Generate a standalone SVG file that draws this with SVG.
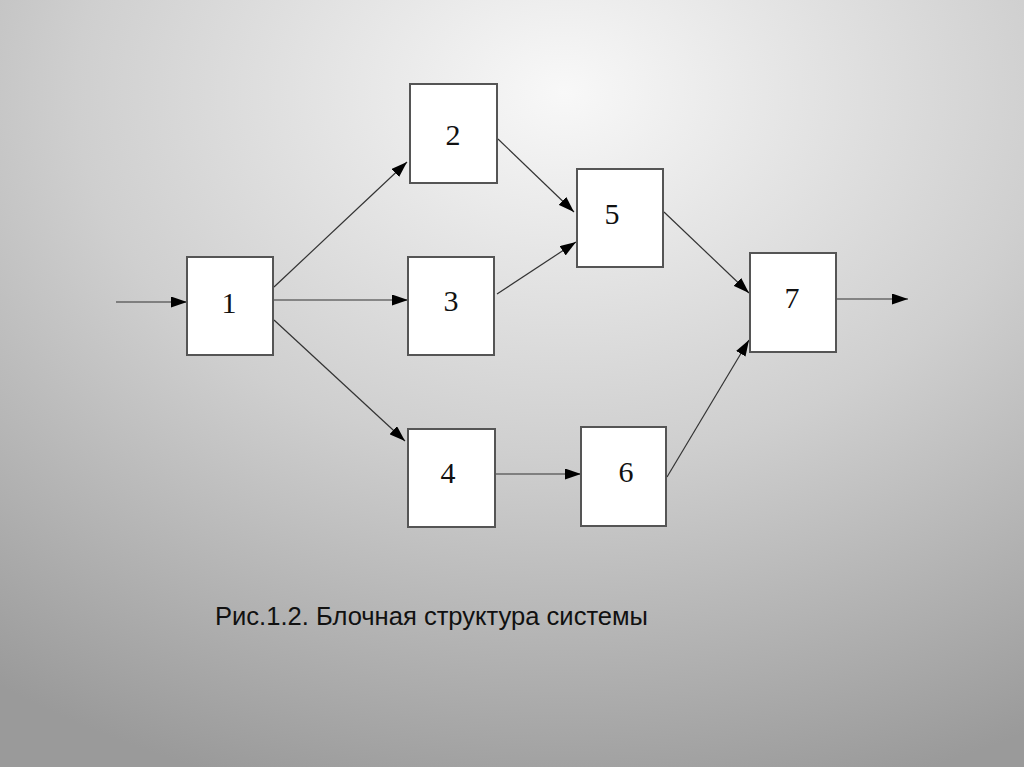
<svg xmlns="http://www.w3.org/2000/svg" width="1024" height="767" viewBox="0 0 1024 767">
<defs>
<radialGradient id="bg" cx="0.55" cy="0.12" r="0.95" fx="0.55" fy="0.12">
<stop offset="0" stop-color="#f8f8f8"/>
<stop offset="0.5" stop-color="#cfcfcf"/>
<stop offset="1" stop-color="#9a9a9a"/>
</radialGradient>
<marker id="ah" viewBox="0 0 16 11" refX="16" refY="5.5" markerWidth="16" markerHeight="11" markerUnits="userSpaceOnUse" orient="auto">
<path d="M0,0 L16,5.5 L0,11 Z" fill="#000"/>
</marker>
<style>
.box{fill:#fff;stroke:#555;stroke-width:2}
.num{font-family:"Liberation Serif","Times New Roman",serif;font-size:30px;fill:#111;text-anchor:middle}
.c{stroke:#333;stroke-width:1.2;fill:none;marker-end:url(#ah)}
.cap{font-family:"Liberation Sans",Arial,sans-serif;font-size:26px;fill:#111}
</style>
</defs>
<rect width="1024" height="767" fill="url(#bg)"/>
<g id="connectors">
<line class="c" x1="116" y1="302" x2="187" y2="302"/>
<line class="c" x1="274" y1="287" x2="407" y2="162"/>
<line class="c" x1="274" y1="300" x2="408" y2="300"/>
<line class="c" x1="274" y1="320" x2="405" y2="441"/>
<line class="c" x1="498" y1="139" x2="574" y2="212"/>
<line class="c" x1="497" y1="294" x2="576" y2="242"/>
<line class="c" x1="664" y1="212" x2="749" y2="293"/>
<line class="c" x1="495" y1="474" x2="581" y2="474"/>
<line class="c" x1="667" y1="477" x2="749" y2="340"/>
<line class="c" x1="837" y1="299" x2="908" y2="299"/>
</g>
<g id="n1"><rect class="box" x="187" y="257" width="86" height="98"/><text class="num" x="229" y="313">1</text></g>
<g id="n2"><rect class="box" x="410" y="84" width="87" height="99"/><text class="num" x="453" y="145">2</text></g>
<g id="n3"><rect class="box" x="408" y="257" width="86" height="98"/><text class="num" x="451" y="311">3</text></g>
<g id="n4"><rect class="box" x="408" y="429" width="87" height="98"/><text class="num" x="448" y="483">4</text></g>
<g id="n5"><rect class="box" x="577" y="169" width="86" height="98"/><text class="num" x="612" y="224">5</text></g>
<g id="n6"><rect class="box" x="581" y="427" width="85" height="99"/><text class="num" x="626" y="482">6</text></g>
<g id="n7"><rect class="box" x="750" y="253" width="86" height="99"/><text class="num" x="792" y="308">7</text></g>
<text class="cap" x="215" y="625" textLength="433" lengthAdjust="spacingAndGlyphs">Рис.1.2. Блочная структура системы</text>
</svg>
